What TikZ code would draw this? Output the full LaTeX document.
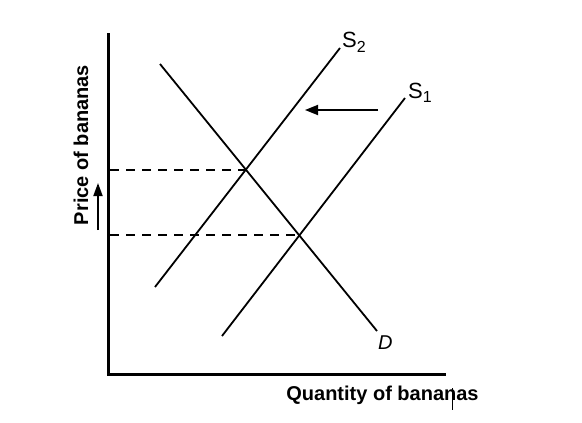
\documentclass[tikz,border=0pt]{standalone}
\usepackage{fontspec}
\setmainfont{Liberation Sans}
\usetikzlibrary{arrows.meta}
\begin{document}
\begin{tikzpicture}[x=1pt,y=-1pt,
  axisline/.style={line width=3pt,line join=miter},
  curve/.style={line width=1.8pt},
  guide/.style={line width=2pt,dash pattern=on 9pt off 7pt},
  shiftarrow/.style={line width=1.8pt,-{Triangle[length=13pt,width=10pt]}},
  axislabel/.style={font=\fontsize{20}{20}\selectfont\bfseries,inner sep=0pt},
  curvelabel/.style={font=\fontsize{22}{22}\selectfont,inner sep=0pt}]
\useasboundingbox (0,0) rectangle (582,423);
% axes
\coordinate (ytop) at (108,33);
\coordinate (origin) at (108,374);
\coordinate (xend) at (446,374);
\draw[axisline] (ytop) -- (origin) -- (xend);
% curves
\coordinate (D1) at (160,64);
\coordinate (D2) at (377,331);
\coordinate (S2a) at (155,287);
\coordinate (S2b) at (340,48);
\coordinate (S1a) at (222,336);
\coordinate (S1b) at (405,98);
\draw[curve] (D1) -- (D2);
\draw[curve] (S2a) -- (S2b);
\draw[curve] (S1a) -- (S1b);
% equilibria and dashed guides
\coordinate (E2) at (246,170);
\coordinate (E1) at (300,235);
\coordinate (P2) at (110,170);
\coordinate (P1) at (110,235);
\draw[guide] (P2) -- (E2);
\draw[guide] (P1) -- (E1);
% shift arrow
\coordinate (arrowstart) at (378,110);
\coordinate (arrowend) at (305,110);
\draw[shiftarrow] (arrowstart) -- (arrowend);
% price up arrow
\coordinate (upstart) at (98,230);
\coordinate (upend) at (98,183);
\draw[line width=1.8pt,-{Triangle[length=13pt,width=9pt]}] (upstart) -- (upend);
% labels
\node[curvelabel,anchor=base west] (s2lab) at (342,48) {S\raisebox{-0.35ex}{\fontsize{16}{16}\selectfont 2}};
\node[curvelabel,anchor=base west] (s1lab) at (408,98) {S\raisebox{-0.35ex}{\fontsize{16}{16}\selectfont 1}};
\node[curvelabel,anchor=base west,font=\fontsize{20}{20}\selectfont\itshape] (dlab) at (378,349) {D};
\node[axislabel,anchor=base] (xlab) at (382.5,400) {Quantity of bananas};
\node[axislabel,anchor=base,rotate=90] (ylab) at (88,145) {Price of bananas};
% stray mark
\coordinate (markA) at (452.7,388);
\coordinate (markB) at (452.7,410);
\draw[line width=0.8pt] (markA) -- (markB);
\end{tikzpicture}
\end{document}
